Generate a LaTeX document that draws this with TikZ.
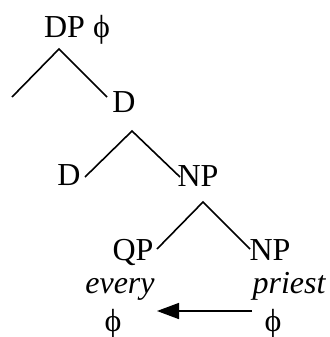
\documentclass[tikz,border=0pt]{standalone}
\usepackage{fontspec}
\setmainfont{Liberation Serif}
\usetikzlibrary{positioning, arrows.meta}

\tikzset{
	lbl/.style={font=\fontsize{16}{19}\selectfont, inner sep=0pt, anchor=base},
	branch/.style={line width=0.8pt},
	move/.style={line width=0.8pt, -{Triangle[length=11pt, width=8pt]}}
}

\begin{document}
\begin{tikzpicture}[x=0.5pt, y=-0.5pt]
		\useasboundingbox (0,0) rectangle (329,337);
		% labels
		\node[lbl] (DP) at (77,37) {DP ϕ};
		\node[lbl] (Dbar) at (124,112) {D};
		\node[lbl] (D) at (69,185) {D};
		\node[lbl] (NP) at (198,186) {NP};
		\node[lbl] (QP) at (133,260) {QP};
		\node[lbl] (NPlow) at (270,260) {NP};
		\node[lbl] (every) at (120,293) {\itshape every};
		\node[lbl] (priest) at (289,293) {\itshape priest};
		\node[lbl] (phiL) at (113,331) {ϕ};
		\node[lbl] (phiR) at (273,331) {ϕ};
		
		% branching points
		\coordinate (top) at (59,49);
		\coordinate (topL) at (12,97);
		\coordinate (topR) at (107,97);
		\coordinate (mid) at (132,131);
		\coordinate (midL) at (85,177);
		\coordinate (midR) at (180,177);
		\coordinate (low) at (203,202);
		\coordinate (lowL) at (157,249);
		\coordinate (lowR) at (250,249);
		\coordinate (tail) at (252,311);
		\coordinate (head) at (157,311);
		
		\draw[branch] (topL) -- (top) -- (topR);
		\draw[branch] (midL) -- (mid) -- (midR);
		\draw[branch] (lowL) -- (low) -- (lowR);
		\draw[move] (tail) -- (head);
\end{tikzpicture}
\end{document}
